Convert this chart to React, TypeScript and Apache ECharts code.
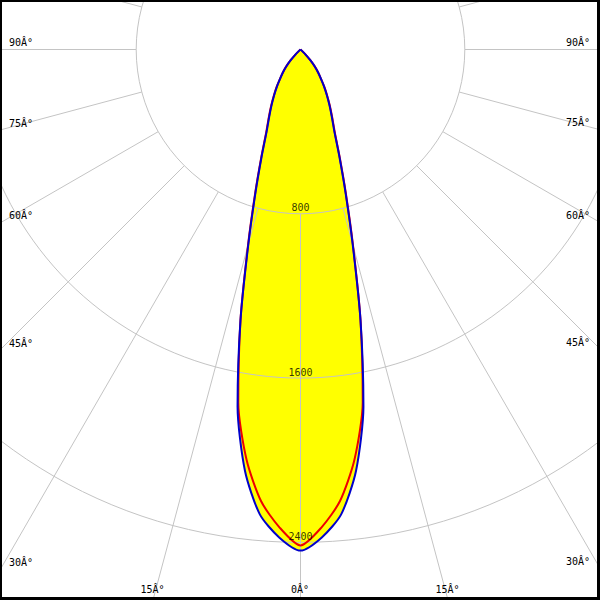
import React, { useEffect, useRef } from 'react';
import * as echarts from 'echarts';

// Polar angles (degrees from nadir) of the measured intensity values
const ANGLES = [0, 2.5, 5, 7.5, 10, 12.5, 15, 17.5, 20, 22.5, 25, 27.5, 30, 32.5, 35, 37.5, 40, 42.5, 45, 47.5, 50, 55, 60, 65, 70, 75, 80, 85, 90];
// C90-C270 plane (blue)
const PLANE_C90 = [2440, 2378, 2272, 2070, 1765, 1350, 982, 728, 552, 430, 360, 305, 256, 213, 172, 140, 108, 72, 35, 10, 0, 0, 0, 0, 0, 0, 0, 0, 0];
// C0-C180 plane (red)
const PLANE_C0 = [2415, 2330, 2207, 2014, 1745, 1350, 988, 734, 558, 436, 366, 310, 260, 216, 174, 141, 109, 72, 35, 10, 0, 0, 0, 0, 0, 0, 0, 0, 0];

const RADIUS_TICKS = [800, 1600, 2400];
const RADIUS_MAX = 3200;
const RADIAL_START = 800;
const GRID_STEP = 15;
const ANGLE_LABELS = [0, 15, 30, 45, 60, 75, 90];

const W = 600;
const H = 600;
const CX = 300.5;
const CY = 49.5;
const PX_PER_UNIT = 164.3 / 800;
const SMOOTH = 0.25;

const FONT = 'DejaVu Sans Mono';
const GRID_COLOR = '#c4c4c4';

function mirror(vals: number[]): number[][] {
  const pts: number[][] = [];
  for (let i = ANGLES.length - 1; i > 0; i--) pts.push([vals[i], -ANGLES[i]]);
  for (let i = 0; i < ANGLES.length; i++) pts.push([vals[i], ANGLES[i]]);
  return pts;
}

function angleLabelGraphics(): any[] {
  const out: any[] = [];
  for (const a of ANGLE_LABELS) {
    const sides = a === 0 ? [1] : [-1, 1];
    for (const s of sides) {
      const rad = (a * Math.PI) / 180;
      const c = Math.cos(rad);
      const sn = Math.sin(rad);
      let x: number;
      let y: number;
      let align: string;
      const tB = c > 1e-9 ? (H - CY) / c : Infinity;
      const xB = CX + s * tB * sn;
      if (isFinite(xB) && xB >= 0 && xB <= W) {
        x = xB - 0.5;
        y = 589;
        align = 'center';
      } else {
        const tS = (s > 0 ? W - CX : CX) / sn;
        y = CY + tS * c - 7;
        x = s > 0 ? 590 : 9;
        align = s > 0 ? 'right' : 'left';
      }
      out.push({
        type: 'text',
        x,
        y,
        z: 20,
        style: {
          text: `${a}Â°`,
          fill: '#000',
          fontFamily: FONT,
          fontSize: 10,
          align,
          textAlign: align,
          verticalAlign: 'middle',
          textVerticalAlign: 'middle',
        },
      });
    }
  }
  return out;
}

export default function App() {
  const ref = useRef<HTMLDivElement>(null);
  useEffect(() => {
    if (!ref.current) return;
    const chart = echarts.init(ref.current, undefined, { renderer: 'svg' });

    const gridAngles: number[] = [];
    for (let a = -180; a < 180; a += GRID_STEP) gridAngles.push(a);

    const radialSeries = gridAngles.map((a) => ({
      type: 'line',
      coordinateSystem: 'polar',
      data: [
        [RADIAL_START, a],
        [RADIUS_MAX, a],
      ],
      symbol: 'none',
      silent: true,
      z: 3,
      lineStyle: { color: GRID_COLOR, width: 1 },
    }));

    const c0 = mirror(PLANE_C0);
    const c90 = mirror(PLANE_C90);

    const fill = (data: number[][]) => ({
      type: 'line',
      coordinateSystem: 'polar',
      data,
      symbol: 'none',
      smooth: SMOOTH,
      silent: true,
      z: 1,
      lineStyle: { opacity: 0, width: 0 },
      areaStyle: { color: '#ffff00', opacity: 1 },
    });

    chart.setOption({
      animation: false,
      backgroundColor: '#ffffff',
      polar: {
        center: [CX, CY],
        radius: RADIUS_MAX * PX_PER_UNIT,
      },
      angleAxis: {
        type: 'value',
        min: -180,
        max: 180,
        startAngle: 90,
        clockwise: false,
        show: false,
      },
      radiusAxis: {
        type: 'value',
        min: 0,
        max: RADIUS_MAX,
        interval: 800,
        z: 3,
        axisLine: { show: false },
        axisTick: { show: false },
        axisLabel: { show: false },
        splitLine: { show: true, lineStyle: { color: GRID_COLOR, width: 1 } },
      },
      series: [
        fill(c90),
        fill(c0),
        ...radialSeries,
        {
          type: 'line',
          coordinateSystem: 'polar',
          name: 'C0-C180',
          data: c0,
          symbol: 'none',
          smooth: SMOOTH,
          silent: true,
          z: 6,
          lineStyle: { color: '#ee0000', width: 2 },
        },
        {
          type: 'line',
          coordinateSystem: 'polar',
          name: 'C90-C270',
          data: c90,
          symbol: 'none',
          smooth: SMOOTH,
          silent: true,
          z: 7,
          lineStyle: { color: '#0000cc', width: 2 },
        },
        {
          type: 'scatter',
          coordinateSystem: 'polar',
          data: RADIUS_TICKS.map((r) => [r, 0]),
          symbolSize: 2,
          itemStyle: { color: 'rgba(0,0,0,0)' },
          silent: true,
          clip: false,
          z: 10,
          label: {
            show: true,
            position: 'top',
            distance: 0,
            color: '#000',
            fontFamily: FONT,
            fontSize: 10,
            formatter: (p: any) => String(p.value[0]),
          },
        },
      ],
      graphic: [
        ...angleLabelGraphics(),
        { type: 'rect', z: 30, shape: { x: 0, y: 0, width: W, height: 2 }, style: { fill: '#000' } },
        { type: 'rect', z: 30, shape: { x: 0, y: 0, width: 2, height: H }, style: { fill: '#000' } },
        { type: 'rect', z: 30, shape: { x: W - 3, y: 0, width: 3, height: H }, style: { fill: '#000' } },
        { type: 'rect', z: 30, shape: { x: 0, y: H - 3, width: W, height: 3 }, style: { fill: '#000' } },
      ],
    });

    return () => chart.dispose();
  }, []);

  return (
    <div
      ref={ref}
      style={{ position: 'absolute', left: 0, top: 0, width: W, height: H }}
    />
  );
}
